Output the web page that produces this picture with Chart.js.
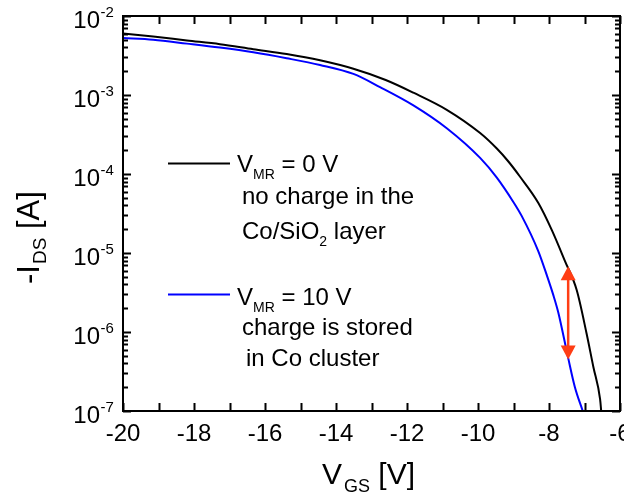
<!DOCTYPE html>
<html>
<head>
<meta charset="utf-8">
<script src="https://cdn.jsdelivr.net/npm/chart.js@4/dist/chart.umd.min.js"></script>
<style>
  html, body { margin: 0; padding: 0; background: #fff; }
  canvas { display: block; }
</style>
</head>
<body>
<canvas id="ivChart" width="624" height="496"></canvas>
<script>
// transfer curves, V_MR = 0 V (black) and V_MR = 10 V (blue)
const vgs0 = [-20, -19.15, -18.2, -17.27, -16.33, -15.39, -14.45, -13.51, -12.6, -11.82, -10.88, -9.94, -9.47, -9.15, -8.82, -8.3, -7.92, -7.55, -7.22, -6.94, -6.75, -6.56, -6.53];
const ids0 = [6.0e-3, 5.5e-3, 4.9e-3, 4.4e-3, 3.8e-3, 3.3e-3, 2.75e-3, 2.15e-3, 1.55e-3, 1.07e-3, 6.5e-4, 3.3e-4, 2.1e-4, 1.45e-4, 9.3e-5, 4.3e-5, 1.95e-5, 7.9e-6, 3.4e-6, 9.5e-7, 3.6e-7, 1.4e-7, 1.0e-7];

const vgs10 = [-20, -19.15, -18.2, -17.27, -16.33, -15.39, -14.45, -13.51, -12.76, -11.82, -10.88, -9.94, -9.47, -9.0, -8.77, -8.3, -8.06, -7.88, -7.74, -7.46, -7.27, -7.05];
const ids10 = [5.25e-3, 5.0e-3, 4.47e-3, 3.98e-3, 3.47e-3, 2.92e-3, 2.4e-3, 1.85e-3, 1.26e-3, 7.4e-4, 3.8e-4, 1.6e-4, 9.0e-5, 4.4e-5, 2.95e-5, 1.05e-5, 5.2e-6, 2.95e-6, 1.78e-6, 4.7e-7, 2.0e-7, 1.0e-7];

const xLabels = [-20, -18, -16, -14, -12, -10, -8, -6];
const yExps = [-2, -3, -4, -5, -6, -7];

// red arrow between the two curves
const arrowX = -7.46;
const arrowTop = 6.8e-6;
const arrowBottom = 4.5e-7;

const FONT = '"Liberation Sans", Arial, sans-serif';

function drawParts(ctx, parts, x, y) {
  // parts: [text, size, baselineShift, extraGap]
  parts.forEach(p => {
    ctx.font = p[1] + 'px ' + FONT;
    ctx.fillText(p[0], x, y + (p[2] || 0));
    x += ctx.measureText(p[0]).width + (p[3] || 0);
  });
}

const frame = {
  id: 'frame',
  afterDraw(chart) {
    const ctx = chart.ctx;
    const a = chart.chartArea;
    const xs = chart.scales.x, ys = chart.scales.y;
    ctx.save();
    ctx.strokeStyle = '#000';
    ctx.fillStyle = '#000';

    // box
    ctx.lineWidth = 2;
    ctx.strokeRect(a.left, a.top, a.right - a.left, a.bottom - a.top);

    // x ticks every 1 V, inward, top and bottom
    ctx.beginPath();
    for (let v = -20; v <= -6; v++) {
      const px = Math.round(xs.getPixelForValue(v)) + 0.5;
      ctx.moveTo(px, a.bottom); ctx.lineTo(px, a.bottom - 8);
      ctx.moveTo(px, a.top); ctx.lineTo(px, a.top + 8);
    }
    // y ticks, decades and minors
    yExps.forEach(e => {
      for (let m = 1; m <= 9; m++) {
        if (e === -2 && m > 1) break;
        const py = Math.round(ys.getPixelForValue(m * Math.pow(10, e))) + 0.5;
        const len = m === 1 ? 8 : 5;
        ctx.moveTo(a.left, py); ctx.lineTo(a.left + len, py);
        ctx.moveTo(a.right, py); ctx.lineTo(a.right - len, py);
      }
    });
    ctx.lineWidth = 2;
    ctx.stroke();

    // x tick labels
    ctx.font = '24px ' + FONT;
    ctx.textAlign = 'center';
    ctx.textBaseline = 'alphabetic';
    xLabels.forEach(v => {
      ctx.fillText(String(v), xs.getPixelForValue(v), 441);
    });

    // y tick labels 10^n
    yExps.forEach(e => {
      const py = ys.getPixelForValue(Math.pow(10, e));
      ctx.textAlign = 'right';
      ctx.font = '24px ' + FONT;
      ctx.fillText('10', 100, py + 12);
      ctx.textAlign = 'left';
      ctx.font = '15px ' + FONT;
      ctx.fillText(String(e), 100.5, py + 1);
    });

    // axis titles
    ctx.textAlign = 'left';
    drawParts(ctx, [['V', 30, 0, 2], ['GS', 18, 8], [' [V]', 30, 0]], 322, 484);
    ctx.save();
    ctx.translate(38.5, 284);
    ctx.rotate(-Math.PI / 2);
    drawParts(ctx, [['-I', 31, 0, 1], ['DS', 19, 7], [' [A]', 31, 0]], 0, 0);
    ctx.restore();

    // legend / annotations
    ctx.lineWidth = 2;
    ctx.strokeStyle = '#000';
    ctx.beginPath(); ctx.moveTo(168, 163.5); ctx.lineTo(230, 163.5); ctx.stroke();
    ctx.strokeStyle = '#0000ff';
    ctx.beginPath(); ctx.moveTo(168, 294.5); ctx.lineTo(230, 294.5); ctx.stroke();

    drawParts(ctx, [['V', 24], ['MR', 14, 7], [' = 0 V', 24]], 237, 172);
    drawParts(ctx, [['no charge in the', 24]], 242, 204);
    drawParts(ctx, [['Co/SiO', 24], ['2', 14, 7], [' layer', 24]], 242, 239);
    drawParts(ctx, [['V', 24], ['MR', 14, 7], [' = 10 V', 24]], 237, 305);
    drawParts(ctx, [['charge is stored', 24]], 242, 335);
    drawParts(ctx, [['in Co cluster', 24]], 246, 366);

    // arrow
    const ax = xs.getPixelForValue(arrowX);
    const t = ys.getPixelForValue(arrowTop);
    const b = ys.getPixelForValue(arrowBottom);
    ctx.strokeStyle = '#ff3d14';
    ctx.fillStyle = '#ff3d14';
    ctx.lineWidth = 2.5;
    ctx.beginPath(); ctx.moveTo(ax, t + 10); ctx.lineTo(ax, b - 10); ctx.stroke();
    ctx.beginPath();
    ctx.moveTo(ax, t); ctx.lineTo(ax - 7.5, t + 14); ctx.lineTo(ax + 7.5, t + 14); ctx.closePath();
    ctx.fill();
    ctx.beginPath();
    ctx.moveTo(ax, b); ctx.lineTo(ax - 7.5, b - 14); ctx.lineTo(ax + 7.5, b - 14); ctx.closePath();
    ctx.fill();

    ctx.restore();
  }
};

const ctx = document.getElementById('ivChart').getContext('2d');
new Chart(ctx, {
  type: 'scatter',
  data: {
    datasets: [{
      label: 'V_MR = 0 V',
      data: vgs0.map((v, i) => ({ x: v, y: ids0[i] })),
      showLine: true,
      borderColor: '#000000',
      borderWidth: 2,
      pointRadius: 0,
      cubicInterpolationMode: 'monotone'
    }, {
      label: 'V_MR = 10 V',
      data: vgs10.map((v, i) => ({ x: v, y: ids10[i] })),
      showLine: true,
      borderColor: '#0000ff',
      borderWidth: 2,
      pointRadius: 0,
      cubicInterpolationMode: 'monotone'
    }]
  },
  options: {
    responsive: false,
    animation: false,
    layout: { padding: { left: 123, right: 4, top: 16, bottom: 85 } },
    plugins: { legend: { display: false }, tooltip: { enabled: false } },
    scales: {
      x: { type: 'linear', min: -20, max: -6, display: false },
      y: { type: 'logarithmic', min: 1e-7, max: 1e-2, display: false }
    }
  },
  plugins: [frame]
});
</script>
</body>
</html>
